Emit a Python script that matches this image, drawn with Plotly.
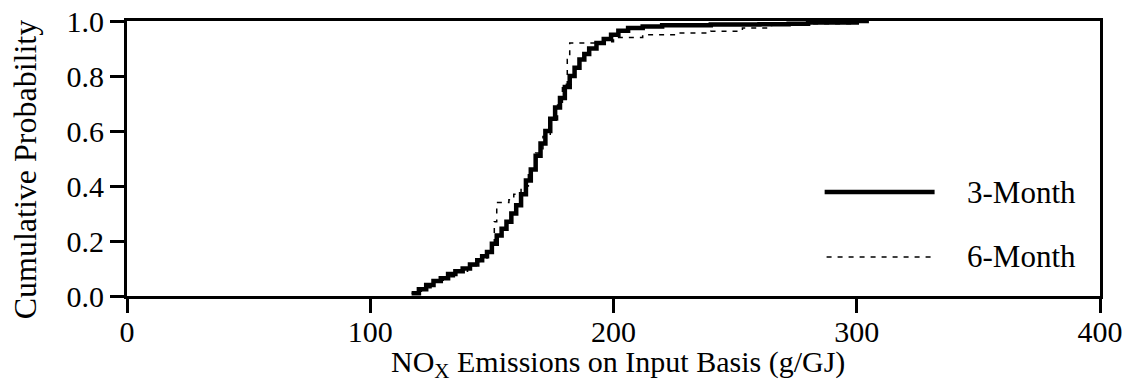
import plotly.graph_objects as go

# 3-Month empirical CDF (NOx g/GJ, cumulative probability)
x3 = [117, 120, 123, 126, 129, 132, 135, 138, 141, 144, 146, 148, 150, 152, 154, 156, 158,
      160, 162, 164, 166, 168, 170, 172, 174, 176, 178, 180, 182, 184, 186, 188, 190, 193,
      196, 199, 202, 206, 212, 220, 240, 260, 272, 280, 300, 305]
p3 = [0.01, 0.025, 0.04, 0.055, 0.065, 0.08, 0.09, 0.10, 0.115, 0.13, 0.145, 0.16, 0.19,
      0.22, 0.245, 0.27, 0.30, 0.33, 0.37, 0.42, 0.46, 0.51, 0.555, 0.60, 0.645, 0.685, 0.72,
      0.76, 0.80, 0.83, 0.86, 0.88, 0.90, 0.92, 0.935, 0.95, 0.965, 0.975, 0.98, 0.985, 0.987,
      0.988, 0.99, 0.995, 1.0, 1.0]

# 6-Month empirical CDF
x6 = [117, 121, 125, 130, 135, 140, 145, 148, 150, 151, 152, 157, 159, 162, 165, 168, 171,
      174, 177, 179, 181, 182, 195, 200, 212, 227, 240, 253, 265, 280, 300]
p6 = [0.01, 0.03, 0.05, 0.07, 0.09, 0.11, 0.13, 0.15, 0.17, 0.27, 0.34, 0.35, 0.37, 0.40,
      0.46, 0.52, 0.58, 0.64, 0.70, 0.77, 0.86, 0.92, 0.925, 0.94, 0.95, 0.956, 0.963, 0.975,
      0.985, 0.99, 1.0]

series_names = ["3-Month", "6-Month"]
x_ticks = [0, 100, 200, 300, 400]
y_ticks = [0.0, 0.2, 0.4, 0.6, 0.8, 1.0]
x_title = "NO<sub>X</sub> Emissions on Input Basis (g/GJ)"
y_title = "Cumulative Probability"

FONT = "Liberation Serif"
FS = 30

fig = go.Figure()
fig.add_trace(go.Scatter(x=x6, y=p6, mode="lines", line_shape="hv",
                         line=dict(color="black", width=1.5, dash="5px,6px"),
                         name=series_names[1], showlegend=False))
fig.add_trace(go.Scatter(x=x3, y=p3, mode="lines", line_shape="hv",
                         line=dict(color="black", width=4.5),
                         name=series_names[0], showlegend=False))

# Legend drawn manually (long line samples)
fig.add_shape(type="line", xref="paper", yref="paper", x0=0.717, x1=0.830, y0=0.378, y1=0.378,
              line=dict(color="black", width=4.5))
fig.add_shape(type="line", xref="paper", yref="paper", x0=0.719, x1=0.830, y0=0.142, y1=0.142,
              line=dict(color="black", width=1.5, dash="5px,6px"))
for name, yy in zip(series_names, [0.378, 0.142]):
    fig.add_annotation(xref="paper", yref="paper", x=0.861, y=yy, text=name,
                       showarrow=False, xanchor="left", yanchor="middle",
                       font=dict(family=FONT, size=31, color="black"))

# Axis titles as annotations for exact placement
fig.add_annotation(xref="paper", yref="paper", x=0.505, y=-0.17, text=x_title,
                   showarrow=False, xanchor="center", yanchor="top",
                   font=dict(family=FONT, size=FS, color="black"))
fig.add_annotation(xref="paper", yref="paper", x=-0.105, y=0.46, text=y_title,
                   showarrow=False, xanchor="center", yanchor="middle", textangle=-90,
                   font=dict(family=FONT, size=32, color="black"))

fig.update_layout(
    width=1127, height=382,
    margin=dict(l=127, r=27, t=21, b=86),
    paper_bgcolor="white", plot_bgcolor="white",
    font=dict(family=FONT, size=FS, color="black"),
    showlegend=False,
)
fig.update_xaxes(range=[0, 400], tickvals=x_ticks, ticktext=[str(v) for v in x_ticks],
                 showgrid=False, zeroline=False, showline=True, linecolor="black", linewidth=3,
                 mirror=True, ticks="outside", ticklen=14, tickwidth=3, tickcolor="black",
                 ticklabelstandoff=-7,
                 automargin=False, tickfont=dict(family=FONT, size=FS))
fig.update_yaxes(range=[0, 1], tickvals=y_ticks, ticktext=[f"{v:.1f}" for v in y_ticks],
                 showgrid=False, zeroline=False, showline=True, linecolor="black", linewidth=3,
                 mirror=True, ticks="outside", ticklen=14, tickwidth=3, tickcolor="black",
                 automargin=False, tickfont=dict(family=FONT, size=FS))

fig.write_html("out.html")
